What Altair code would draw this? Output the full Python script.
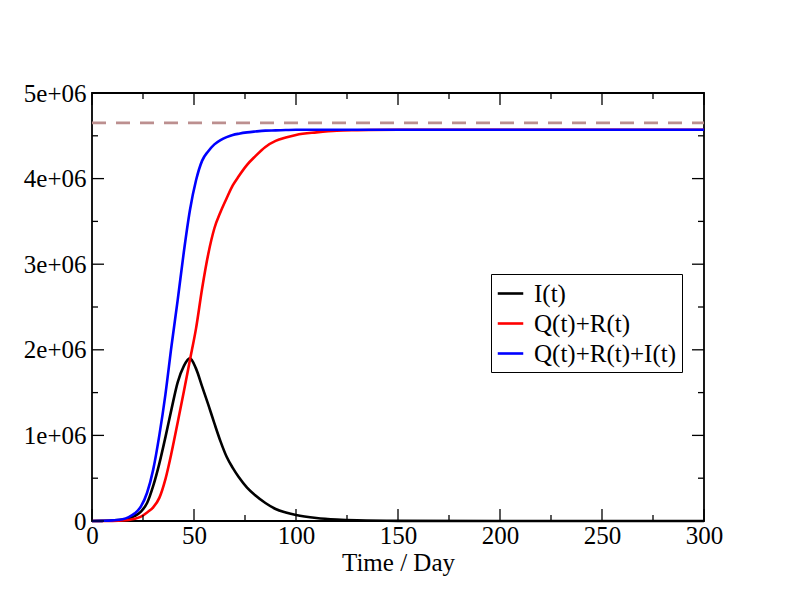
import altair as alt
import pandas as pd

# Time grid (days)
t = [0, 5, 10, 15, 18, 21, 24, 27, 30, 33, 36, 39, 42, 45, 48, 51, 54, 57, 60, 63, 66, 69,
     72, 76, 80, 85, 90, 95, 100, 110, 120, 130, 150, 200, 250, 300]
# Values in millions
I_vals = [0, 0.002, 0.006, 0.015, 0.03, 0.06, 0.11, 0.21, 0.41, 0.67, 0.98, 1.31, 1.62, 1.81,
          1.90, 1.78, 1.57, 1.36, 1.14, 0.93, 0.75, 0.62, 0.51, 0.39, 0.30, 0.21, 0.14, 0.10,
          0.07, 0.035, 0.017, 0.008, 0.002, 0, 0, 0]
QR_vals = [0, 0, 0.001, 0.005, 0.012, 0.025, 0.05, 0.10, 0.16, 0.27, 0.49, 0.80, 1.15, 1.51,
           1.88, 2.25, 2.72, 3.12, 3.42, 3.61, 3.77, 3.92, 4.03, 4.16, 4.26, 4.37, 4.44, 4.48,
           4.51, 4.54, 4.56, 4.565, 4.57, 4.57, 4.57, 4.57]
QRI_vals = [0, 0.002, 0.007, 0.02, 0.045, 0.09, 0.17, 0.33, 0.60, 1.00, 1.48, 2.05, 2.58, 3.14,
            3.63, 3.98, 4.21, 4.32, 4.40, 4.45, 4.485, 4.51, 4.525, 4.54, 4.55, 4.56, 4.563,
            4.567, 4.57, 4.57, 4.57, 4.57, 4.57, 4.57, 4.57, 4.57]
series_names = ["I(t)", "Q(t)+R(t)", "Q(t)+R(t)+I(t)"]
series_colors = ["#000000", "#ff0000", "#0000ff"]
dashed_level = 4.65  # millions

x_major = [0, 50, 100, 150, 200, 250, 300]
x_minor = [25, 75, 125, 175, 225, 275]
y_major = [0, 1, 2, 3, 4, 5]
y_minor = [0.5, 1.5, 2.5, 3.5, 4.5]

W, H = 612, 428
FONT = "Liberation Serif"
FS = 25

rows = []
for k, (name, vals) in enumerate(zip(series_names, [I_vals, QR_vals, QRI_vals])):
    for ti, v in zip(t, vals):
        rows.append({"t": ti, "v": v * 1e6, "series": name, "k": k})
df = pd.DataFrame(rows)

xscale = alt.Scale(domain=[0, 300], nice=False, zero=False)
yscale = alt.Scale(domain=[0, 5e6], nice=False, zero=False)

xaxis = alt.Axis(values=x_major, tickSize=0, labelPadding=2, labelFont=FONT, labelFontSize=FS,
                 labelColor="black", title="Time / Day", titleFont=FONT, titleFontSize=FS,
                 titleFontWeight="normal", titleColor="black", titlePadding=2, grid=False,
                 domain=False, labelFlush=False)
yaxis = alt.Axis(values=[v * 1e6 for v in y_major], tickSize=0, labelPadding=6, labelFont=FONT,
                 labelFontSize=FS, labelColor="black", title=None, grid=False, domain=False,
                 labelFlush=False,
                 labelExpr="datum.value == 0 ? '0' : format(datum.value/1e6, 'd') + 'e+06'")

lines = alt.Chart(df).mark_line(strokeWidth=2.6, interpolate="monotone").encode(
    x=alt.X("t:Q", scale=xscale, axis=xaxis),
    y=alt.Y("v:Q", scale=yscale, axis=yaxis),
    color=alt.Color("series:N",
                    scale=alt.Scale(domain=series_names, range=series_colors),
                    legend=alt.Legend(title=None, orient="none", legendX=399, legendY=181,
                                      fillColor="white", strokeColor="black",
                                      padding=5, symbolType="stroke", symbolSize=650,
                                      symbolStrokeWidth=2.6, labelFont=FONT, labelFontSize=FS,
                                      labelColor="black", labelOffset=9, rowPadding=2,
                                      labelLimit=400)),
    order=alt.Order("k:Q"),
)

dashed = alt.Chart(pd.DataFrame({"y": [dashed_level * 1e6]})).mark_rule(
    color="#bc8f8f", strokeWidth=2.7, strokeDash=[14, 10]
).encode(y=alt.Y("y:Q", scale=yscale), x=alt.value(0), x2=alt.value(W))

def xticks(vals, length):
    d = pd.DataFrame({"x": vals})
    bot = alt.Chart(d).mark_rule(color="black", strokeWidth=1.3).encode(
        x=alt.X("x:Q", scale=xscale), y=alt.value(H), y2=alt.value(H - length))
    top = alt.Chart(d).mark_rule(color="black", strokeWidth=1.3).encode(
        x=alt.X("x:Q", scale=xscale), y=alt.value(0), y2=alt.value(length))
    return [bot, top]

def yticks(vals, length):
    d = pd.DataFrame({"y": [v * 1e6 for v in vals]})
    left = alt.Chart(d).mark_rule(color="black", strokeWidth=1.3).encode(
        y=alt.Y("y:Q", scale=yscale), x=alt.value(0), x2=alt.value(length))
    right = alt.Chart(d).mark_rule(color="black", strokeWidth=1.3).encode(
        y=alt.Y("y:Q", scale=yscale), x=alt.value(W), x2=alt.value(W - length))
    return [left, right]

layers = [dashed, lines] + xticks(x_major, 12) + xticks(x_minor, 6) + yticks(y_major, 12) + yticks(y_minor, 6)

chart = alt.layer(*layers).properties(
    width=W, height=H,
    autosize=alt.AutoSizeParams(type="none"),
    padding={"left": 84, "top": 85, "right": 80, "bottom": 80},
    background="white",
).configure_view(stroke="black", strokeWidth=1.8)

chart.save("out.html", embed_options={"renderer": "svg", "actions": False})
